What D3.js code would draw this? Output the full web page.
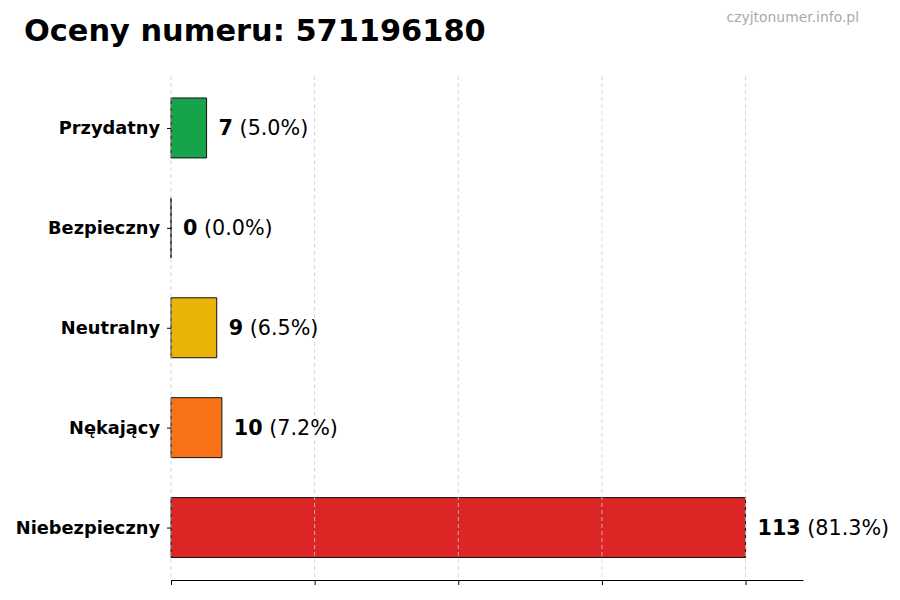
<!DOCTYPE html>
<html><head><meta charset="utf-8">
<script src="https://cdn.jsdelivr.net/npm/d3@7"></script>
<style>body{margin:0;background:#fff}svg{display:block}</style>
</head><body>
<svg id="c" width="900" height="600"></svg>
<script>
const categories = ["Niebezpieczny","Nękający","Neutralny","Bezpieczny","Przydatny"];
const values = [113, 10, 9, 0, 7];
const percents = ["81.3%","7.2%","6.5%","0.0%","5.0%"];
const colors = ["#dc2626","#f97316","#eab308","#0ea5e9","#16a34a"];
const xTicks = [0, 28.25, 56.5, 84.75, 113];
const title = "Oceny numeru: 571196180";
const watermark = "czyjtonumer.info.pl";

const svg = d3.select("#c");
const font = "DejaVu Sans, sans-serif";
const maxV = d3.max(values);
const x = d3.scaleLinear().domain([0, maxV * 1.1]).range([171, 803]);
const y = d3.scaleLinear().domain([-0.525, 4.52]).range([580, 76]);
const bh = y(0) - y(0.6);

svg.append("text").attr("x", 24).attr("y", 41).attr("font-family", font)
  .attr("font-weight", "bold").attr("font-size", 30.4).attr("fill", "#000").text(title);
svg.append("text").attr("x", 859).attr("y", 22).attr("text-anchor", "end").attr("font-family", font)
  .attr("font-size", 13.9).attr("fill", "#aaa").text(watermark);

// bars (as paths so zero-width bars still show their edge)
svg.selectAll("path.bar").data(values).join("path").attr("class", "bar")
  .attr("d", (d, i) => {
    const p = d3.path();
    p.rect(x(0), y(i) - bh / 2, x(d) - x(0), bh);
    return p.toString();
  })
  .attr("fill", (d, i) => colors[i]).attr("stroke", "#111").attr("stroke-width", 1);

// grid on top
svg.selectAll("line.grid").data(xTicks).join("line").attr("class", "grid")
  .attr("x1", d => x(d)).attr("x2", d => x(d)).attr("y1", 76).attr("y2", 580)
  .attr("stroke", "#ccc").attr("stroke-width", 0.8).attr("stroke-dasharray", "4,3");

// x axis
const xa = svg.append("g").attr("transform", "translate(0,580)")
  .call(d3.axisBottom(x).tickValues(xTicks).tickFormat("").tickSize(5).tickSizeOuter(0));
xa.select(".domain").attr("stroke", "#000");
xa.selectAll(".tick line").attr("stroke", "#000");

// y axis
const ya = svg.append("g").attr("transform", `translate(${x(0)},0)`)
  .call(d3.axisLeft(y).tickValues(d3.range(categories.length)).tickFormat(i => categories[i]).tickSize(4).tickPadding(7));
ya.select(".domain").remove();
ya.selectAll(".tick line").attr("stroke", "#000");
ya.selectAll(".tick text").attr("font-family", font).attr("font-weight", "bold")
  .attr("font-size", 17.8).attr("fill", "#000");

// value labels
const lab = svg.selectAll("text.val").data(values).join("text").attr("class", "val")
  .attr("x", d => x(d) + 12).attr("y", (d, i) => y(i)).attr("dy", "0.35em")
  .attr("font-family", font).attr("font-size", 20.7).attr("fill", "#000");
lab.append("tspan").attr("font-weight", "bold").text(d => d);
lab.append("tspan").text((d, i) => " (" + percents[i] + ")");
</script>
</body></html>
